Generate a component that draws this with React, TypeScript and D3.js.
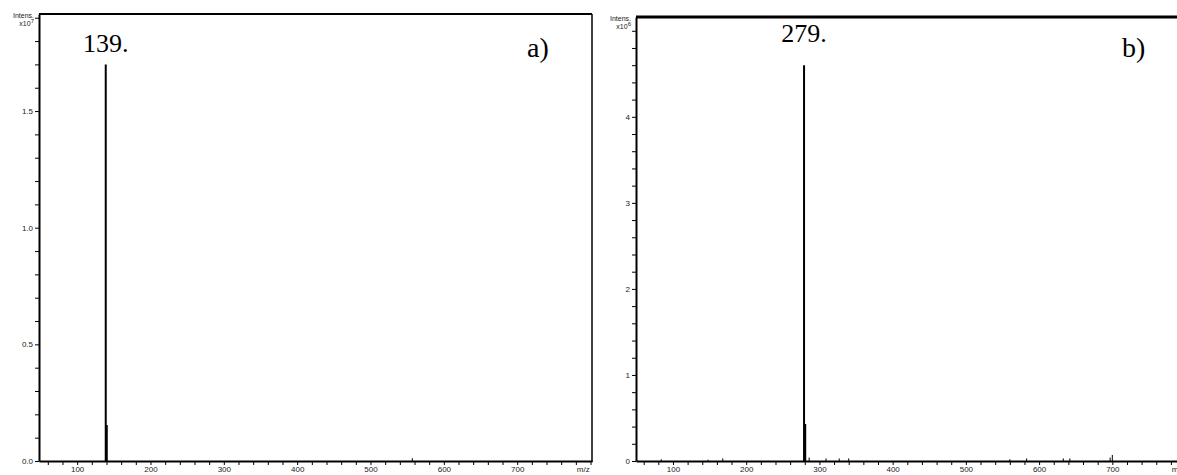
import { useEffect, useRef } from 'react';
import { axisBottom, axisLeft, range, scaleLinear, select } from 'd3';

// panel a) spectrum (m/z, intensity)
const peaksAMz = [139, 140.4, 557];
const peaksAInt = [1.7e7, 0.154e7, 0.012e7];

// panel b) spectrum
const peaksBMz = [279, 280.6, 84, 148, 168, 286, 309, 327, 340, 560, 583, 633, 642, 697, 700];
const peaksBInt = [4.6e6, 0.43e6, 0.02e6, 0.015e6, 0.03e6, 0.04e6, 0.03e6, 0.03e6, 0.03e6, 0.02e6, 0.03e6, 0.03e6, 0.03e6, 0.04e6, 0.07e6];

const xLabelTicks = [100, 200, 300, 400, 500, 600, 700];
const yLabelTicksA = [0, 0.5e7, 1.0e7, 1.5e7];
const yLabelTicksB = [0, 1e6, 2e6, 3e6, 4e6];

const peakLabels = ['139.', '279.'];
const panelTags = ['a)', 'b)'];
const exponents = ['7', '6'];

const W = 1177;
const H = 475;
const SANS = 'Arial, "Liberation Sans", sans-serif';
const SERIF = '"Times New Roman", "Liberation Serif", serif';

export default function App() {
  const svgRef = useRef<SVGSVGElement>(null);

  useEffect(() => {
    const root = select(svgRef.current);
    root.selectAll('*').remove();

    const panels = [
      {
        mz: peaksAMz,
        int: peaksAInt,
        xDomain: [48, 802],
        xRange: [39, 592],
        yMax: 1.916e7,
        yRange: [461, 14],
        yMinorStep: 1e6,
        yLabels: yLabelTicksA,
        yFormat: (d: number) => (d / 1e7).toFixed(1),
        label: peakLabels[0],
        labelMz: 139,
        labelY: 52,
        tag: panelTags[0],
        exp: exponents[0],
        topWidth: 2,
        rightBorder: true,
      },
      {
        mz: peaksBMz,
        int: peaksBInt,
        xDomain: [49.5, 802],
        xRange: [636, 1187],
        yMax: 5.16e6,
        yRange: [461, 17],
        yMinorStep: 2e5,
        yLabels: yLabelTicksB,
        yFormat: (d: number) => String(Math.round(d / 1e6)),
        label: peakLabels[1],
        labelMz: 279,
        labelY: 42,
        tag: panelTags[1],
        exp: exponents[1],
        topWidth: 3,
        rightBorder: false,
      },
    ];

    panels.forEach((p) => {
      const x = scaleLinear().domain(p.xDomain).range(p.xRange);
      const y = scaleLinear().domain([0, p.yMax]).range(p.yRange);
      const g = root.append('g');

      // x axis
      const xTicks = range(60, 801, 20);
      const xa = g
        .append('g')
        .attr('transform', `translate(0,${p.yRange[0]})`)
        .call(
          axisBottom(x)
            .tickValues(xTicks)
            .tickSize(4)
            .tickSizeOuter(0)
            .tickPadding(1)
            .tickFormat((d) => (xLabelTicks.includes(Number(d)) ? String(d) : ''))
        );
      xa.select('.domain').attr('stroke-width', 2);

      // y axis
      const yTicks = range(0, p.yMax, p.yMinorStep);
      const ya = g
        .append('g')
        .attr('transform', `translate(${p.xRange[0]},0)`)
        .call(
          axisLeft(y)
            .tickValues(yTicks)
            .tickSize(4)
            .tickSizeOuter(0)
            .tickPadding(2)
            .tickFormat((d) =>
              p.yLabels.some((v) => Math.abs(v - Number(d)) < 1) ? p.yFormat(Number(d)) : ''
            )
        );
      ya.select('.domain').attr('stroke-width', 2);

      [xa, ya].forEach((a) => {
        a.selectAll('text').attr('font-family', SANS).attr('font-size', 8).attr('fill', '#222');
      });

      // frame
      g.append('line')
        .attr('x1', p.xRange[0])
        .attr('x2', p.xRange[1])
        .attr('y1', p.yRange[1])
        .attr('y2', p.yRange[1])
        .attr('stroke', '#000')
        .attr('stroke-width', p.topWidth);
      if (p.rightBorder) {
        g.append('line')
          .attr('x1', p.xRange[1])
          .attr('x2', p.xRange[1])
          .attr('y1', p.yRange[1])
          .attr('y2', p.yRange[0] + 1)
          .attr('stroke', '#000')
          .attr('stroke-width', 1.5);
      }

      // axis captions
      const cap = g
        .append('g')
        .attr('font-family', SANS)
        .attr('font-size', 7)
        .attr('fill', '#222')
        .attr('text-anchor', 'end');
      cap.append('text').attr('x', p.xRange[0] - 5).attr('y', p.yRange[1] + 4).text('Intens.');
      const ex = cap.append('text').attr('x', p.xRange[0] - 5).attr('y', p.yRange[1] + 12);
      ex.append('tspan').text('x10');
      ex.append('tspan').attr('dy', -3).attr('font-size', 6).text(p.exp);
      g.append('text')
        .attr('x', x(790))
        .attr('y', p.yRange[0] + 11)
        .attr('text-anchor', 'middle')
        .attr('font-family', SANS)
        .attr('font-size', 8)
        .attr('fill', '#222')
        .text('m/z');

      // peaks
      const peaks = p.mz.map((m, i) => ({ m, v: p.int[i] }));
      g.append('g')
        .selectAll('line')
        .data(peaks)
        .join('line')
        .attr('x1', (d) => x(d.m))
        .attr('x2', (d) => x(d.m))
        .attr('y1', y(0))
        .attr('y2', (d) => y(d.v))
        .attr('stroke', '#000')
        .attr('stroke-width', (d) => (d.v > p.yMax * 0.05 ? 2 : 1));

      // labels
      g.append('text')
        .attr('x', x(p.labelMz))
        .attr('y', p.labelY)
        .attr('text-anchor', 'middle')
        .attr('font-family', SERIF)
        .attr('font-size', 26)
        .text(p.label);
      g.append('text')
        .attr('x', p.xRange[0] + (p.rightBorder ? 488 : 486))
        .attr('y', 57)
        .attr('font-family', SERIF)
        .attr('font-size', 28)
        .text(p.tag);
    });
  }, []);

  return (
    <svg
      ref={svgRef}
      width={W}
      height={H}
      style={{ position: 'absolute', left: 0, top: 0, background: '#fff' }}
    />
  );
}
